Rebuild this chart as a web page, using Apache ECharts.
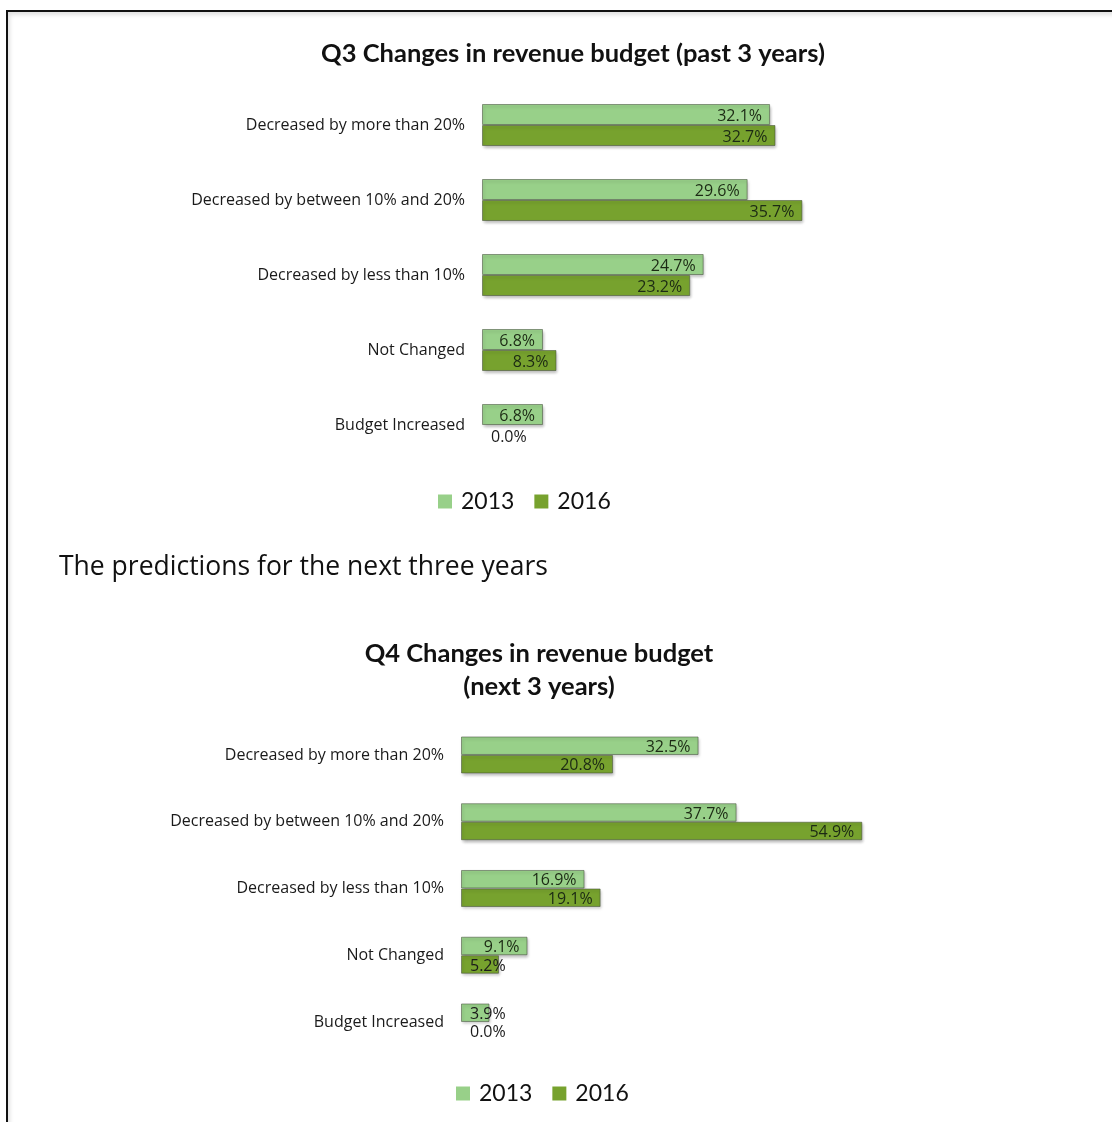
<!DOCTYPE html>
<html>
<head>
<meta charset="utf-8">
<script src="https://cdn.jsdelivr.net/npm/echarts@6/dist/echarts.min.js"></script>
<style>
  html, body { margin: 0; padding: 0; background: #ffffff; }
  #page { position: relative; width: 1112px; height: 1122px; overflow: hidden; }
  #frame {
    position: absolute; left: 6px; top: 10px; width: 1120px; height: 1130px;
    border-top: 2px solid #111; border-left: 2px solid #111;
    box-shadow: 2px 3px 4px rgba(0,0,0,0.12) inset;
  }
  #chart { position: absolute; left: 0; top: 0; width: 1112px; height: 1122px; }
</style>
</head>
<body>
<div id="page">
  <div id="frame"></div>
  <div id="chart"></div>
</div>
<script>
// Survey answers: change in revenue budget, share of respondents (%)
const categories = [
  'Decreased by more than 20%',
  'Decreased by between 10% and 20%',
  'Decreased by less than 10%',
  'Not Changed',
  'Budget Increased'
];
const years = ['2013', '2016'];

// Q3: past three years
const q3_2013 = [32.1, 29.6, 24.7, 6.8, 6.8];
const q3_2016 = [32.7, 35.7, 23.2, 8.3, 0.0];

// Q4: next three years
const q4_2013 = [32.5, 37.7, 16.9, 9.1, 3.9];
const q4_2016 = [20.8, 54.9, 19.1, 5.2, 0.0];

const COLOR_2013 = '#98d089';
const COLOR_2016 = '#77a22e';
const LABEL_FONT = 'Open Sans';
const TITLE_FONT = 'Lato';

// Plot geometry of the two panels
const panels = [
  { left: 482, top: 87.5, height: 375, axisMax: 40, width: 359, barWidth: 21, gap: '44%' },
  { left: 461, top: 721.6, height: 333.75, axisMax: 60, width: 438.6, barWidth: 18.5, gap: '44.6%' }
];

// Labels sit inside the bar end; short bars get their label just past the origin
function barData(values, panel) {
  const pxPerUnit = panel.width / panel.axisMax;
  return values.map(v => {
    const fits = v * pxPerUnit >= 50;
    const item = {
      value: v,
      label: fits
        ? { position: 'insideRight', distance: 8 }
        : { position: 'insideLeft', distance: 9, color: '#1a1a1a' }
    };
    if (v === 0) {
      item.itemStyle = { borderWidth: 0, shadowBlur: 0, shadowOffsetX: 0, shadowOffsetY: 0 };
    }
    return item;
  });
}

function barSeries(name, values, color, idx) {
  const p = panels[idx];
  return {
    name: name,
    type: 'bar',
    xAxisIndex: idx,
    yAxisIndex: idx,
    data: barData(values, p),
    barWidth: p.barWidth,
    barGap: '0%',
    barCategoryGap: p.gap,
    itemStyle: {
      color: color,
      borderColor: 'rgba(70,80,60,0.55)',
      borderWidth: 1,
      shadowColor: 'rgba(0,0,0,0.28)',
      shadowBlur: 3,
      shadowOffsetX: 1,
      shadowOffsetY: 2
    },
    label: {
      show: true,
      formatter: p2 => p2.value.toFixed(1) + '%',
      fontFamily: LABEL_FONT,
      fontSize: 16,
      color: '#1c2a14',
      offset: [0, 1.5]
    },
    emphasis: { disabled: true },
    animation: false
  };
}

const chart = echarts.init(document.getElementById('chart'), null, { renderer: 'canvas' });

const legendBase = {
  data: years,
  icon: 'rect',
  padding: 0,
  itemWidth: 14,
  itemHeight: 14,
  itemGap: 20,
  itemStyle: { borderWidth: 0, shadowBlur: 0, shadowOffsetX: 0, shadowOffsetY: 0 },
  textStyle: { fontFamily: TITLE_FONT, fontSize: 23, color: '#111', padding: [0, 0, 0, 4] },
  selectedMode: false
};

chart.setOption({
  animation: false,
  grid: panels.map(p => ({ left: p.left, top: p.top, width: p.width, height: p.height, containLabel: false })),
  xAxis: panels.map((p, i) => ({
    type: 'value', gridIndex: i, min: 0, max: p.axisMax, show: false,
    splitLine: { show: false }
  })),
  yAxis: panels.map((p, i) => ({
    type: 'category', gridIndex: i, data: categories, inverse: true,
    axisLine: { show: false }, axisTick: { show: false },
    axisLabel: { fontFamily: LABEL_FONT, fontSize: 16, color: '#1a1a1a', margin: 17 }
  })),
  legend: [
    Object.assign({ left: 438, top: 490 }, legendBase),
    Object.assign({ left: 456, top: 1082 }, legendBase)
  ],
  series: [
    barSeries('2013', q3_2013, COLOR_2013, 0),
    barSeries('2016', q3_2016, COLOR_2016, 0),
    barSeries('2013', q4_2013, COLOR_2013, 1),
    barSeries('2016', q4_2016, COLOR_2016, 1)
  ],
  graphic: [
    {
      type: 'text', x: 573, y: 54,
      style: {
        text: 'Q3 Changes in revenue budget (past 3 years)',
        font: 'bold 25.5px ' + TITLE_FONT, fill: '#111',
        textAlign: 'center', textVerticalAlign: 'middle'
      }
    },
    {
      type: 'text', x: 59, y: 567,
      style: {
        text: 'The predictions for the next three years',
        font: '26.5px ' + LABEL_FONT, fill: '#111',
        textAlign: 'left', textVerticalAlign: 'middle'
      }
    },
    {
      type: 'text', x: 539, y: 654,
      style: {
        text: 'Q4 Changes in revenue budget',
        font: 'bold 25.5px ' + TITLE_FONT, fill: '#111',
        textAlign: 'center', textVerticalAlign: 'middle'
      }
    },
    {
      type: 'text', x: 539, y: 687,
      style: {
        text: '(next 3 years)',
        font: 'bold 25.5px ' + TITLE_FONT, fill: '#111',
        textAlign: 'center', textVerticalAlign: 'middle'
      }
    }
  ]
});
</script>
</body>
</html>
